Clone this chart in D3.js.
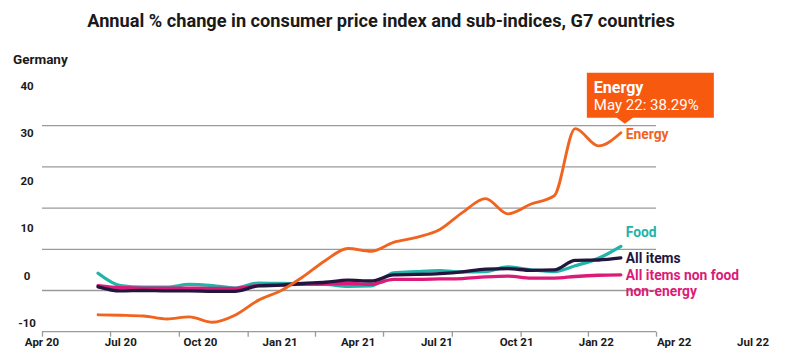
<!DOCTYPE html>
<html><head><meta charset="utf-8">
<script src="https://cdn.jsdelivr.net/npm/d3@7"></script>
<style>
body{margin:0;background:#fff}
svg{display:block;font-family:Roboto,"Liberation Sans",Arial,sans-serif}
</style>
</head><body>
<svg id="c" width="800" height="355"></svg>
<script>
// ---- data ----
const months = ["2020-06-15","2020-07-15","2020-08-15","2020-09-15","2020-10-15","2020-11-15","2020-12-15",
  "2021-01-15","2021-02-15","2021-03-15","2021-04-15","2021-05-15","2021-06-15","2021-07-15","2021-08-15",
  "2021-09-15","2021-10-15","2021-11-15","2021-12-15","2022-01-15","2022-02-15","2022-03-15","2022-04-15","2022-05-15"];
const energy   = [-5.9,-6.0,-6.2,-6.9,-6.4,-7.7,-6.0,-2.4,0.0,3.2,7.3,10.2,9.5,11.7,12.9,14.8,18.9,22.3,18.6,21.0,23.0,39.3,35.1,38.29];
const food     = [4.2,1.2,0.8,0.8,1.5,1.2,0.6,1.8,1.7,1.6,1.5,1.0,1.1,4.3,4.6,4.8,4.5,4.6,5.7,5.0,4.6,6.0,7.8,10.7];
const allItems = [0.9,-0.1,0.0,-0.1,-0.1,-0.2,-0.2,1.1,1.3,1.7,2.0,2.5,2.3,3.8,3.9,4.1,4.5,5.2,5.3,4.9,5.0,7.3,7.4,7.9];
const core     = [1.2,0.7,0.6,0.6,0.6,0.5,0.5,1.2,1.4,1.5,1.6,1.7,1.5,2.7,2.7,2.8,2.9,3.3,3.5,3.0,3.0,3.4,3.7,3.8];
const seriesNames = ["Energy","Food","All items","All items non food non-energy"];
const labelLines = [["Energy"],["Food"],["All items"],["All items non food","non-energy"]];
const colors = ["#f0641f","#22b3a9","#22163f","#dc1a77"];
const xTicks = ["2020-04-01","2020-07-01","2020-10-01","2021-01-01","2021-04-01","2021-07-01","2021-10-01","2022-01-01","2022-04-01","2022-07-01"];
const xTickLabels = ["Apr 20","Jul 20","Oct 20","Jan 21","Apr 21","Jul 21","Oct 21","Jan 22","Apr 22","Jul 22"];
const yTicks = [-10,0,10,20,30,40];
const gridValues = [0,10,20,30,40];
const title = "Annual % change in consumer price index and sub-indices, G7 countries";
const country = "Germany";
const tooltipTitle = "Energy";
const tooltipText = "May 22: 38.29%";

// ---- build ----
const parse = d3.timeParse("%Y-%m-%d");
const dates = months.map(parse);
const tickDates = xTicks.map(parse);
const allSeries = [energy, food, allItems, core];

const svg = d3.select("#c");
const x = d3.scaleTime().domain([parse("2020-04-01"), parse("2022-07-01")]).range([42, 656]);
const y = d3.scaleLinear().domain([-10, 40]).range([331.7, 125.7]);
// label positions in the reference are laid out on a stretched scale
const xLab = d3.scaleTime().domain(x.domain()).range([42, 753]);
const yLab = d3.scaleLinear().domain([-10, 40]).range([323.3, 85.7]);

svg.append("text").attr("x", 381).attr("y", 26.5).attr("text-anchor", "middle")
  .attr("font-size", 18.2).attr("font-weight", 700).attr("fill", "#1a1a1a").text(title);
svg.append("text").attr("x", 13).attr("y", 63.5)
  .attr("font-size", 13.5).attr("font-weight", 700).attr("fill", "#1a1a1a").text(country);

// gridlines
svg.append("g").selectAll("line").data(gridValues).join("line")
  .attr("x1", x.range()[0]).attr("x2", x.range()[1])
  .attr("y1", d => y(d)).attr("y2", d => y(d))
  .attr("stroke", "#9a9a9a").attr("stroke-width", 1.3);

// x axis
const xAxis = d3.axisBottom(x).tickValues(tickDates).tickSize(5).tickFormat("");
const gx = svg.append("g").attr("transform", `translate(0,${y(-10)})`).call(xAxis);
gx.select(".domain").attr("stroke", "#9a9a9a").attr("stroke-width", 1.3).attr("d", `M${x.range()[0]},0H${x.range()[1]}`);
gx.selectAll(".tick line").attr("stroke", "#9a9a9a").attr("stroke-width", 1.3);
svg.append("g").selectAll("text").data(tickDates).join("text")
  .attr("x", d => xLab(d)).attr("y", 345.5).attr("text-anchor", "middle")
  .attr("font-size", 11.5).attr("font-weight", 700).attr("fill", "#1a1a1a")
  .text((d, i) => xTickLabels[i]);

// y labels
svg.append("g").selectAll("text").data(yTicks).join("text")
  .attr("x", 27).attr("y", d => yLab(d) + 4).attr("text-anchor", "middle")
  .attr("font-size", 11.5).attr("font-weight", 700).attr("fill", "#1a1a1a")
  .text(d => d);

// lines
const line = d3.line().x((d, i) => x(dates[i])).y(d => y(d)).curve(d3.curveMonotoneX);
const order = [1, 3, 2, 0];
svg.append("g").selectAll("path").data(order).join("path")
  .attr("d", k => line(allSeries[k]))
  .attr("fill", "none").attr("stroke", k => colors[k])
  .attr("stroke-width", k => k === 0 ? 2.9 : 3.3)
  .attr("stroke-linejoin", "round").attr("stroke-linecap", "round");

// end labels
const n = months.length - 1;
const labelY = [y(energy[n]) + 1, y(food[n]) - 14, y(allItems[n]), y(core[n])];
labelLines.forEach((lines, k) => {
  const t = svg.append("text").attr("x", x(dates[n]) + 5).attr("y", labelY[k] + 5)
    .attr("font-size", 13.8).attr("font-weight", 700).attr("fill", colors[k]);
  lines.forEach((s, j) => t.append("tspan").attr("x", x(dates[n]) + 5).attr("dy", j ? 16 : 0).text(s));
});

// tooltip
const px = x(dates[n]), py = y(energy[n]);
const tip = svg.append("g");
const bx = px - 34, by = py - 60, bw = 127, bh = 45;
tip.append("path")
  .attr("d", `M${bx},${by}h${bw}v${bh}H${px + 12}L${px + 4},${py - 9}L${px - 4},${by + bh}H${bx}Z`)
  .attr("fill", "#f7590f");
tip.append("text").attr("x", bx + 7).attr("y", by + 20).attr("font-size", 16).attr("font-weight", 700)
  .attr("fill", "#fff").text(tooltipTitle);
tip.append("text").attr("x", bx + 7).attr("y", by + 37).attr("font-size", 15)
  .attr("fill", "#fff").text(tooltipText);
</script>
</body></html>
